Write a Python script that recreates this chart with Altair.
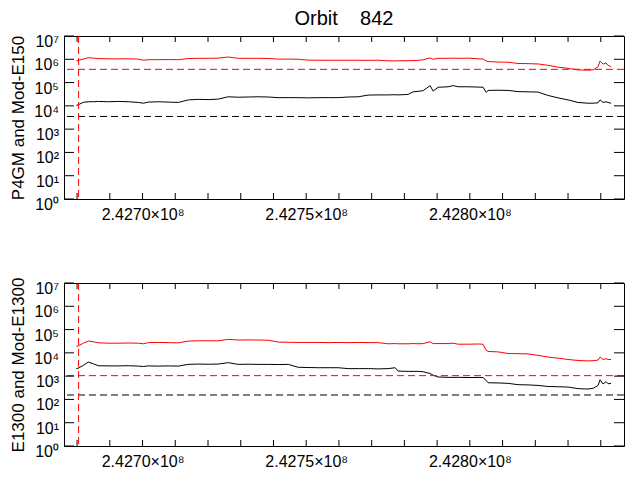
import altair as alt
import pandas as pd

time = [242679760, 242680370, 242681900, 242683420, 242684950, 242686480, 242689530, 242692580, 242695640, 242698690,
        242700220, 242701750, 242704800, 242707850, 242710910, 242713960, 242717020, 242720070, 242723120, 242726180,
        242729230, 242732290, 242735340, 242738390, 242741450, 242744500, 242747550, 242750610, 242753660, 242756720,
        242759770, 242762820, 242765880, 242768930, 242771990, 242775040, 242777180, 242778090, 242781150, 242782680,
        242784200, 242785730, 242787870, 242788780, 242790310, 242793370, 242794890, 242796420, 242799470, 242802530,
        242804050, 242804970, 242805580, 242808640, 242811690, 242814740, 242817800, 242820850, 242823910, 242826960,
        242830010, 242833070, 242836120, 242837650, 242839180, 242839790, 242840700, 242841620, 242842230, 242843150]

top_red = [8.5e5, 9.0e5, 1.02e6, 1.17e6, 1.12e6, 1.07e6, 1.05e6, 1.04e6, 1.05e6, 1.02e6,
           9.1e5, 9.6e5, 9.6e5, 9.7e5, 9.6e5, 1.08e6, 1.1e6, 1.1e6, 1.12e6, 1.25e6,
           1.1e6, 1.1e6, 1.1e6, 1.08e6, 1.02e6, 1.02e6, 1.0e6, 9.2e5, 9.1e5, 9.1e5,
           9.1e5, 9.1e5, 9.1e5, 9.0e5, 9.1e5, 8.6e5, 8.5e5, 8.6e5, 8.7e5, 8.8e5,
           9.0e5, 9.5e5, 1.15e6, 1.0e6, 1.1e6, 1.1e6, 1.12e6, 1.1e6, 1.12e6, 1.05e6,
           1.02e6, 8.5e5, 8.0e5, 7.6e5, 7.5e5, 6.6e5, 6.5e5, 6.3e5, 5.5e5, 4.6e5,
           4.1e5, 3.5e5, 3.4e5, 3.5e5, 4.8e5, 8.5e5, 6.2e5, 7.0e5, 5.5e5, 4.8e5]

top_black = [1.05e4, 1.12e4, 1.42e4, 1.5e4, 1.5e4, 1.55e4, 1.5e4, 1.55e4, 1.5e4, 1.4e4,
             1.3e4, 1.45e4, 1.5e4, 1.45e4, 1.4e4, 1.8e4, 1.9e4, 1.85e4, 1.95e4, 2.45e4,
             2.35e4, 2.4e4, 2.45e4, 2.4e4, 2.25e4, 2.25e4, 2.25e4, 2.2e4, 2.25e4, 2.25e4,
             2.25e4, 2.4e4, 2.45e4, 2.9e4, 2.95e4, 2.95e4, 3.0e4, 2.95e4, 3.1e4, 4.0e4,
             4.2e4, 4.5e4, 7.4e4, 4.3e4, 6.3e4, 6.6e4, 7.4e4, 6.6e4, 6.6e4, 6.4e4,
             6.3e4, 3.8e4, 4.6e4, 4.7e4, 4.6e4, 4.1e4, 4.0e4, 3.9e4, 2.8e4, 2.2e4,
             1.8e4, 1.4e4, 1.3e4, 1.3e4, 1.35e4, 1.8e4, 1.4e4, 1.5e4, 1.4e4, 1.3e4]

bot_red = [1.9e4, 2.0e4, 2.6e4, 3.2e4, 3.0e4, 2.7e4, 2.6e4, 2.6e4, 2.65e4, 2.6e4,
           2.45e4, 2.75e4, 2.8e4, 2.75e4, 2.7e4, 3.2e4, 3.3e4, 3.3e4, 3.3e4, 3.8e4,
           3.55e4, 3.6e4, 3.55e4, 3.5e4, 2.9e4, 2.85e4, 2.8e4, 2.8e4, 2.8e4, 2.75e4,
           2.8e4, 2.75e4, 2.8e4, 2.75e4, 2.75e4, 2.45e4, 2.5e4, 2.45e4, 2.45e4, 2.5e4,
           2.45e4, 2.5e4, 3.0e4, 2.5e4, 2.5e4, 2.5e4, 2.6e4, 2.35e4, 2.35e4, 2.4e4,
           2.35e4, 1.3e4, 1.15e4, 1.1e4, 9.4e3, 9.2e3, 9.0e3, 7.8e3, 6.6e3, 5.9e3,
           5.2e3, 4.7e3, 4.5e3, 4.6e3, 4.9e3, 6.6e3, 5.2e3, 5.6e3, 5.2e3, 5.2e3]

bot_black = [2.1e3, 2.2e3, 2.9e3, 4.0e3, 3.4e3, 2.8e3, 2.75e3, 2.75e3, 2.8e3, 2.7e3,
             2.6e3, 2.75e3, 2.7e3, 2.75e3, 2.7e3, 3.2e3, 3.3e3, 3.25e3, 3.3e3, 3.8e3,
             3.2e3, 3.25e3, 3.2e3, 3.2e3, 3.15e3, 3.2e3, 2.4e3, 2.35e3, 2.3e3, 2.3e3,
             2.3e3, 2.1e3, 2.1e3, 2.1e3, 2.05e3, 2.1e3, 2.3e3, 1.65e3, 1.6e3, 1.6e3,
             1.6e3, 1.55e3, 1.3e3, 1.1e3, 920, 890, 880, 890, 870, 880,
             870, 660, 520, 510, 490, 430, 420, 400, 360, 350,
             340, 290, 280, 300, 400, 700, 460, 580, 470, 490]

top_hlines = [3.7e5, 3.5e3]
bot_hlines = [1.05e3, 155]
hline_series = ["red", "black"]
vline_time = [242680460]

x_ticks = [242680000, 242690000, 242700000, 242710000, 242720000, 242730000, 242740000, 242750000,
           242760000, 242770000, 242780000, 242790000, 242800000, 242810000, 242820000, 242830000, 242840000]
y_ticks = [1, 10, 100, 1000, 10000, 100000, 1000000, 10000000]
y_labels = ["10\u2070", "10\u00b9", "10\u00b2", "10\u00b3", "10\u2074", "10\u2075", "10\u2076", "10\u2077"]
x_domain = [242676000, 242847100]
y_domain = [1, 10000000]

FONT = "Liberation Sans"
W, H = 560, 163
YT, XT = 10, 6  # inward tick lengths (px)

xlab = "datum.value % 50000 == 0 ? format(datum.value / 1e8, '.4f') + '\u00d710\u2078' : ''"

xs = alt.Scale(domain=x_domain, nice=False, zero=False)
ys = alt.Scale(type="log", domain=y_domain, nice=False)
col = alt.Color("s:N", scale=alt.Scale(domain=["red", "black"], range=["#ff0000", "#000000"]), legend=None)


def panel(red, black, hl, ytitle, title=None):
    ax = alt.Axis(orient="bottom", labelExpr=xlab, ticks=False, domain=False, grid=False, title=None,
                  labelFont=FONT, labelFontSize=16, labelPadding=7, labelFlush=False, labelOverlap=False,
                  labelColor="black")
    ay = alt.Axis(orient="left", labels=False, ticks=False, domain=False, grid=False, title=ytitle,
                  titleFont=FONT, titleFontSize=17, titleFontWeight="normal", titleColor="black",
                  titlePadding=37)
    n = len(time)
    df = pd.DataFrame({"t": time + time, "v": red + black, "s": ["red"] * n + ["black"] * n})
    hdf = pd.DataFrame({"v": hl, "s": hline_series})
    vdf = pd.DataFrame({"t": vline_time})
    ytdf = pd.DataFrame({"v": y_ticks, "lab": y_labels})
    xtdf = pd.DataFrame({"t": x_ticks})

    lines = alt.Chart(df).mark_line(strokeWidth=1).encode(
        x=alt.X("t:Q", scale=xs, axis=ax), y=alt.Y("v:Q", scale=ys, axis=ay), color=col)
    hrules = alt.Chart(hdf).mark_rule(strokeWidth=1, strokeDash=[7, 4]).encode(
        y=alt.Y("v:Q", scale=ys), color=col)
    vrule = alt.Chart(vdf).mark_rule(strokeWidth=1, strokeDash=[7, 4], color="#ff0000").encode(
        x=alt.X("t:Q", scale=xs))
    ylabs = alt.Chart(ytdf).mark_text(align="right", baseline="middle", dx=-5, dy=6, font=FONT, fontSize=16,
                                      color="black").encode(
        y=alt.Y("v:Q", scale=ys), x=alt.value(0), text="lab:N")
    lt = alt.Chart(ytdf).mark_rule(color="black", strokeWidth=1).encode(
        y=alt.Y("v:Q", scale=ys), x=alt.value(0), x2=alt.value(YT))
    rt = alt.Chart(ytdf).mark_rule(color="black", strokeWidth=1).encode(
        y=alt.Y("v:Q", scale=ys), x=alt.value(W - YT), x2=alt.value(W))
    bt = alt.Chart(xtdf).mark_rule(color="black", strokeWidth=1).encode(
        x=alt.X("t:Q", scale=xs), y=alt.value(H - XT), y2=alt.value(H))
    tt = alt.Chart(xtdf).mark_rule(color="black", strokeWidth=1).encode(
        x=alt.X("t:Q", scale=xs), y=alt.value(0), y2=alt.value(XT))

    ch = alt.layer(lines, hrules, vrule, ylabs, lt, rt, bt, tt).properties(width=W, height=H)
    if title:
        ch = ch.properties(title=alt.Title(title, font=FONT, fontSize=20, fontWeight="normal", color="black",
                                           anchor="middle", offset=5))
    return ch


top = panel(top_red, top_black, top_hlines, "P4GM and Mod-E150", "Orbit\u00a0\u00a0\u00a0\u00a0842")
bottom = panel(bot_red, bot_black, bot_hlines, "E1300 and Mod-E1300")

chart = alt.vconcat(top, bottom, spacing=53).properties(padding=0, background="white").configure_view(
    stroke="black", strokeWidth=1)

chart.save("out.html", embed_options={"renderer": "svg", "actions": False})
